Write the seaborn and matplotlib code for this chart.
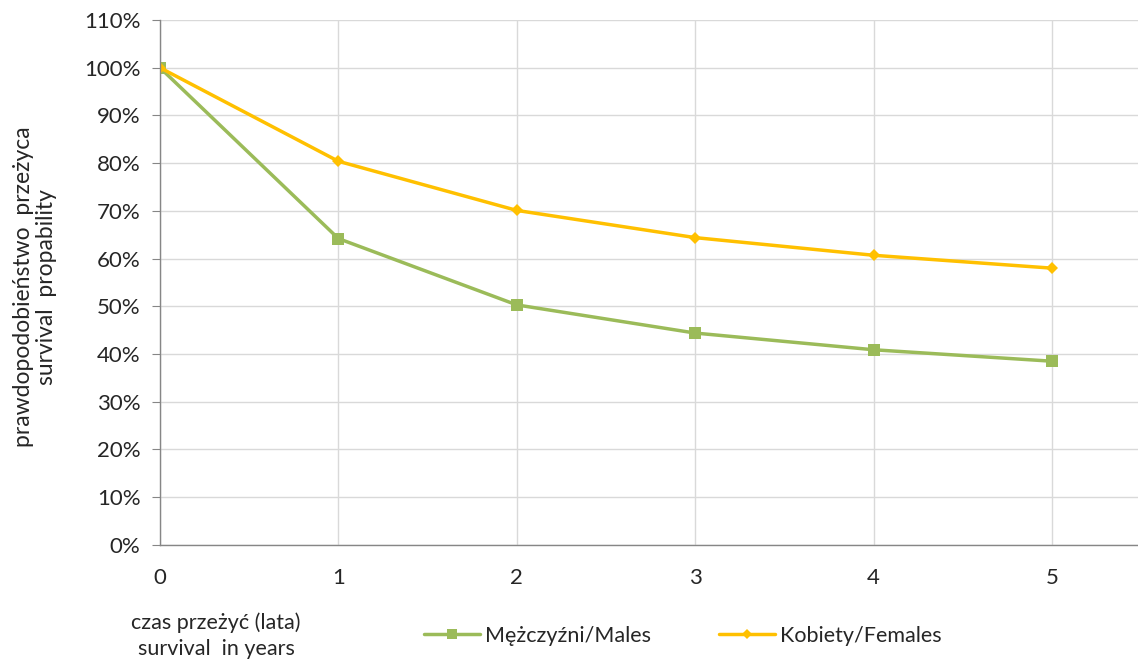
import numpy as np
import pandas as pd
import matplotlib
matplotlib.use("Agg")
import matplotlib.pyplot as plt
import seaborn as sns
from matplotlib.ticker import PercentFormatter

# --- DATA ---
years = [0, 1, 2, 3, 4, 5]
males = [100, 64.2, 50.3, 44.4, 40.9, 38.5]
females = [100, 80.4, 70.1, 64.4, 60.7, 58.0]
series_names = ['Mężczyźni/Males', 'Kobiety/Females']
yticks = list(range(0, 111, 10))

df = pd.DataFrame({
    'year': years * 2,
    'value': males + females,
    'series': [series_names[0]] * len(years) + [series_names[1]] * len(years),
})

sns.set_style("white")
plt.rcParams['font.family'] = ['Lato', 'DejaVu Sans']
txt = '#262626'

fig = plt.figure(figsize=(11.38, 6.67), dpi=100)
ax = fig.add_axes([0.1406, 0.183, 0.859, 0.787])

palette = {series_names[0]: '#9BBB59', series_names[1]: '#FFC000'}
markers = {series_names[0]: 's', series_names[1]: 'D'}
sns.lineplot(data=df, x='year', y='value', hue='series', style='series',
             palette=palette, markers=markers, dashes=False, ax=ax,
             linewidth=2.5, legend=False, markeredgewidth=0)
# marker sizes: square bigger than diamond
for line, ms in zip(ax.get_lines(), [9, 6]):
    line.set_markersize(ms)

ax.set_xlim(0, 5.48)
ax.set_ylim(0, 110)
ax.set_xticks(years)
ax.set_yticks(yticks)
ax.yaxis.set_major_formatter(PercentFormatter(decimals=0))
ax.grid(True, color='#d9d9d9', linewidth=1)
ax.set_axisbelow(True)
for s in ['top', 'right']:
    ax.spines[s].set_visible(False)
for s in ['left', 'bottom']:
    ax.spines[s].set_color('#868686')
    ax.spines[s].set_linewidth(1)
ax.tick_params(axis='y', which='major', left=True, length=6, color='#868686',
               labelsize=16, labelcolor=txt, pad=8)
ax.tick_params(axis='x', which='major', bottom=False, labelsize=16,
               labelcolor=txt, pad=13)
ax.set_xlabel('')
ax.set_ylabel('')

fig.text(0.031, 0.57, 'prawdopodobieństwo  przeżyca\nsurvival  propability',
         rotation=90, ha='center', va='center', fontsize=16.5, color=txt,
         linespacing=1.1)
fig.text(0.19, 0.047, 'czas przeżyć (lata)\nsurvival  in years', ha='center',
         va='center', fontsize=15.5, color=txt, linespacing=1.4)

handles = [plt.Line2D([], [], color=palette[n], marker=markers[n], linewidth=2.5,
                      markersize=ms, markeredgewidth=0)
           for n, ms in zip(series_names, [7, 5])]
fig.legend(handles, series_names, loc='center', bbox_to_anchor=(0.6, 0.047),
           ncol=2, frameon=False, fontsize=15.5, handlelength=2.6,
           columnspacing=3.2, handletextpad=0.2, labelcolor=txt)

fig.savefig('out.png', dpi=100)
